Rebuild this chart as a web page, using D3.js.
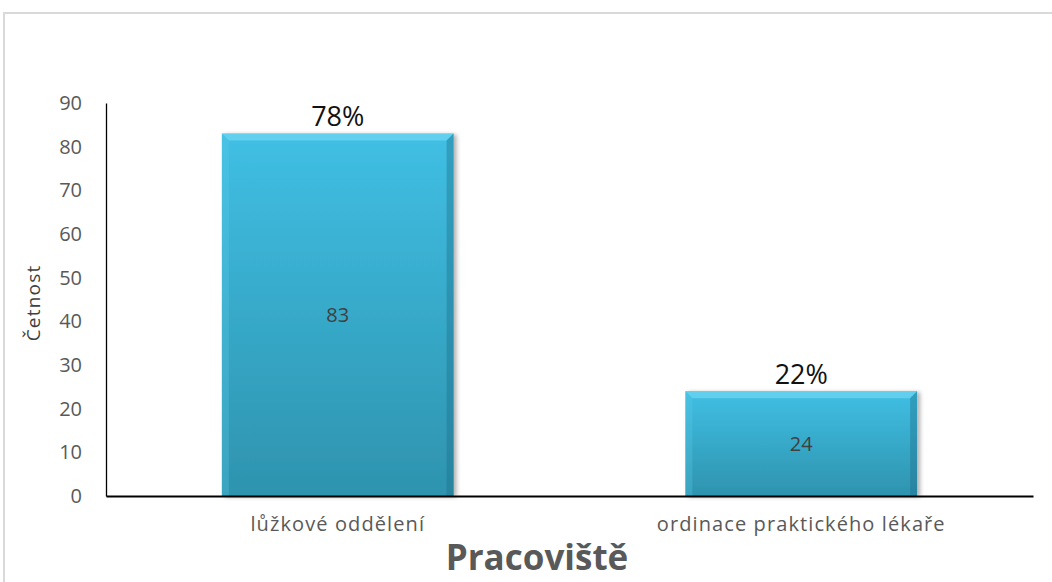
<!DOCTYPE html>
<html>
<head>
<meta charset="utf-8">
<script src="https://cdn.jsdelivr.net/npm/d3@7"></script>
<style>
  body { margin: 0; background: #fff; }
  svg { display: block; font-family: "Open Sans", "Noto Sans", sans-serif; }
</style>
</head>
<body>
<div id="chart"></div>
<script>
const width = 1052;
const height = 582;
const font = '"Open Sans", "Noto Sans", sans-serif';

// data
const categories = ["lůžkové oddělení", "ordinace praktického lékaře"];
const counts = [83, 24];
const percents = ["78%", "22%"];
const yTicks = [0, 10, 20, 30, 40, 50, 60, 70, 80, 90];

const margin = { left: 106, right: 19, top: 103, bottom: 86 };

const svg = d3
  .select("#chart")
  .append("svg")
  .attr("width", width)
  .attr("height", height);

// gradient + shadow
const defs = svg.append("defs");
const grad = defs
  .append("linearGradient")
  .attr("id", "barGrad")
  .attr("x1", 0).attr("y1", 0).attr("x2", 0).attr("y2", 1);
grad.append("stop").attr("offset", "0%").attr("stop-color", "#40bfe4");
grad.append("stop").attr("offset", "100%").attr("stop-color", "#2e93ae");

const shadow = defs.append("filter").attr("id", "shadow")
  .attr("x", "-5%").attr("y", "-5%").attr("width", "115%").attr("height", "115%");
shadow.append("feDropShadow")
  .attr("dx", 3).attr("dy", 1).attr("stdDeviation", 2)
  .attr("flood-color", "#000").attr("flood-opacity", 0.3);

// outer frame
svg
  .append("rect")
  .attr("x", 4)
  .attr("y", 13)
  .attr("width", width + 10)
  .attr("height", height + 10)
  .attr("fill", "none")
  .attr("stroke", "#d9d9d9")
  .attr("stroke-width", 2);

const x = d3
  .scaleBand()
  .domain(categories)
  .range([margin.left, width - margin.right])
  .paddingInner(0.5)
  .paddingOuter(0.25);

const y = d3
  .scaleLinear()
  .domain([0, 90])
  .range([height - margin.bottom, margin.top]);

// y axis
const yAxis = svg
  .append("g")
  .attr("transform", `translate(${margin.left},0)`)
  .call(d3.axisLeft(y).tickValues(yTicks).tickSize(0).tickPadding(24));
yAxis.attr("font-family", font);
yAxis.select(".domain").attr("stroke", "#000").attr("stroke-width", 1.3);
yAxis
  .selectAll("text")
  .attr("fill", "#595959")
  .style("font-size", "20px");

// bars
const bars = svg
  .selectAll(".bar")
  .data(categories)
  .enter()
  .append("g")
  .attr("class", "bar");

bars
  .append("rect")
  .attr("x", (d) => x(d))
  .attr("y", (d, i) => y(counts[i]))
  .attr("width", x.bandwidth())
  .attr("height", (d, i) => y(0) - y(counts[i]))
  .attr("fill", "url(#barGrad)")
  .attr("filter", "url(#shadow)");

// bevel edges
const bv = 7;
bars.each(function (d, i) {
  const x0 = x(d);
  const x1 = x0 + x.bandwidth();
  const y0 = y(counts[i]);
  const y1 = y(0);
  const g = d3.select(this);
  // top
  g.append("polygon")
    .attr("points", [[x0, y0], [x1, y0], [x1 - bv, y0 + bv], [x0 + bv, y0 + bv]].join(" "))
    .attr("fill", "#6fd6f2")
    .attr("opacity", 0.7);
  // left
  g.append("polygon")
    .attr("points", [[x0, y0], [x0 + bv, y0 + bv], [x0 + bv, y1], [x0, y1]].join(" "))
    .attr("fill", "#5cc9e8")
    .attr("opacity", 0.3);
  // right
  g.append("polygon")
    .attr("points", [[x1, y0], [x1, y1], [x1 - bv, y1], [x1 - bv, y0 + bv]].join(" "))
    .attr("fill", "#1f6f8a")
    .attr("opacity", 0.4);
});

// value labels inside
bars
  .append("text")
  .attr("x", (d) => x(d) + x.bandwidth() / 2)
  .attr("y", (d, i) => (y(counts[i]) + y(0)) / 2)
  .attr("dy", "0.35em")
  .attr("text-anchor", "middle")
  .attr("fill", "#404040")
  .style("font-size", "20px")
  .text((d, i) => counts[i]);

// percent labels above
bars
  .append("text")
  .attr("x", (d) => x(d) + x.bandwidth() / 2)
  .attr("y", (d, i) => y(counts[i]) - 17)
  .attr("dy", "0.35em")
  .attr("text-anchor", "middle")
  .attr("fill", "#111")
  .style("font-size", "27px")
  .text((d, i) => percents[i]);

// x axis
const xAxis = svg
  .append("g")
  .attr("transform", `translate(0,${y(0)})`)
  .call(d3.axisBottom(x).tickSize(0).tickPadding(21));
xAxis.attr("font-family", font);
xAxis.select(".domain").attr("stroke", "#000").attr("stroke-width", 2.2);
xAxis
  .selectAll("text")
  .attr("fill", "#595959")
  .style("font-size", "20px")
  .style("letter-spacing", "1.1px");

// axis titles
svg
  .append("text")
  .attr("transform", `translate(40,303) rotate(-90)`)
  .attr("text-anchor", "middle")
  .attr("fill", "#404040")
  .style("font-size", "19px")
  .style("letter-spacing", "1.2px")
  .text("Četnost");

svg
  .append("text")
  .attr("x", 537)
  .attr("y", 570)
  .attr("text-anchor", "middle")
  .attr("fill", "#595959")
  .style("font-size", "35px")
  .style("font-weight", "bold")
  .text("Pracoviště");
</script>
</body>
</html>
